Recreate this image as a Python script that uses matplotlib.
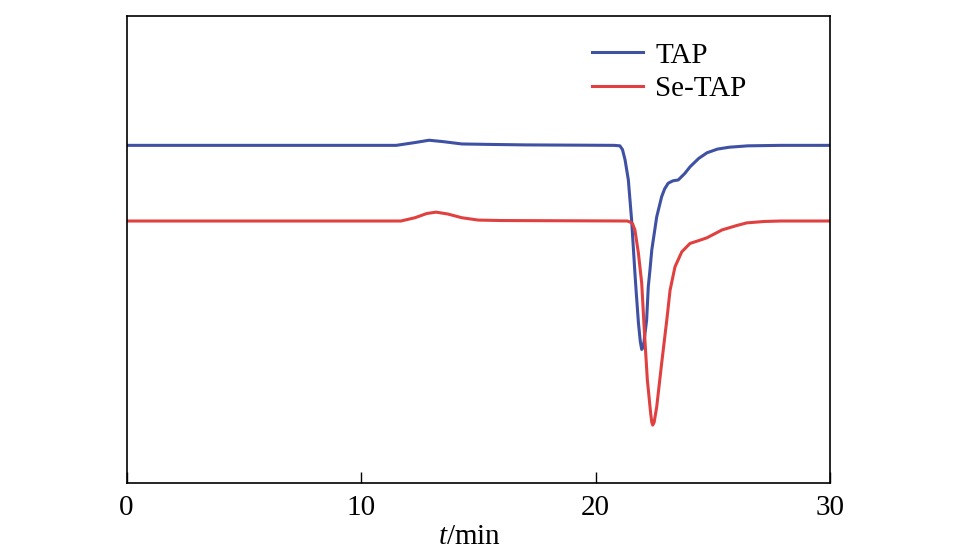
import matplotlib
matplotlib.use("Agg")
import matplotlib.pyplot as plt

plt.rcParams["font.family"] = ["Liberation Serif", "DejaVu Serif"]
plt.rcParams["mathtext.fontset"] = "custom"
plt.rcParams["mathtext.rm"] = "Liberation Serif"
plt.rcParams["mathtext.it"] = "Liberation Serif:italic"

# retention time (min) and detector signal (arbitrary units)
tap_t = [0, 11.5, 12.3, 12.9, 13.5, 14.3, 15.5, 17, 20.8, 21.04, 21.15, 21.26,
         21.40, 21.54, 21.68, 21.73, 21.83, 21.91, 21.97, 22.04, 22.18, 22.25,
         22.32, 22.40, 22.61, 22.82, 22.95, 23.10, 23.30, 23.53, 23.81, 24.03,
         24.4, 24.75, 25.2, 25.7, 26.5, 27.9, 30]
tap_y = [72.3, 72.3, 72.9, 73.4, 73.1, 72.6, 72.5, 72.4, 72.3, 72.2, 71.4, 69.2,
         64.9, 56.3, 45.0, 41.3, 34.3, 30.3, 28.6, 29.1, 34.9, 42.0,
         45.5, 49.9, 57.0, 61.3, 63.0, 64.2, 64.7, 64.9, 66.3, 67.7,
         69.5, 70.7, 71.5, 71.9, 72.2, 72.3, 72.3]

setap_t = [0, 11.7, 12.3, 12.8, 13.2, 13.7, 14.3, 15.0, 16, 21.35, 21.47, 21.58,
           21.68, 21.83, 21.97, 22.08, 22.21, 22.35, 22.40, 22.44, 22.50, 22.61,
           22.82, 23.04, 23.18, 23.39, 23.68, 24.03, 24.4, 24.75, 25.4, 26.0,
           26.45, 27.2, 27.9, 30]
setap_y = [56.1, 56.1, 56.8, 57.7, 58.0, 57.6, 56.8, 56.3, 56.2, 56.1, 55.9, 55.5,
           54.2, 49.2, 42.8, 32.8, 22.1, 15.0, 13.0, 12.4, 13.0, 16.3,
           25.6, 34.9, 41.3, 46.3, 49.5, 51.3, 51.9, 52.5, 54.2, 55.1,
           55.7, 56.0, 56.1, 56.1]

xticks = [0, 10, 20, 30]

fig = plt.figure(figsize=(9.57, 5.54), dpi=100)
ax = fig.add_axes([0.1322, 0.1282, 0.7351, 0.8429])

ax.plot(tap_t, tap_y, color="#3f51a3", lw=2.2, label="TAP")
ax.plot(setap_t, setap_y, color="#e0403f", lw=2.2, label="Se-TAP")

ax.set_xlim(0, 30)
ax.set_ylim(0, 100)
ax.set_xticks(xticks)
ax.set_yticks([])
ax.tick_params(axis="x", direction="in", length=8, width=1, pad=9, labelsize=21)
for s in ax.spines.values():
    s.set_linewidth(1.2)

ax.set_xlabel(r"$\mathit{t}$/min", fontsize=21, labelpad=2)
ax.xaxis.label.set_x(0.488)

ax.legend(loc="upper left", bbox_to_anchor=(0.625, 1.0), frameon=False,
          fontsize=21, handlelength=1.75, handletextpad=0.4, labelspacing=0.25)

fig.savefig("out.png", dpi=100)
